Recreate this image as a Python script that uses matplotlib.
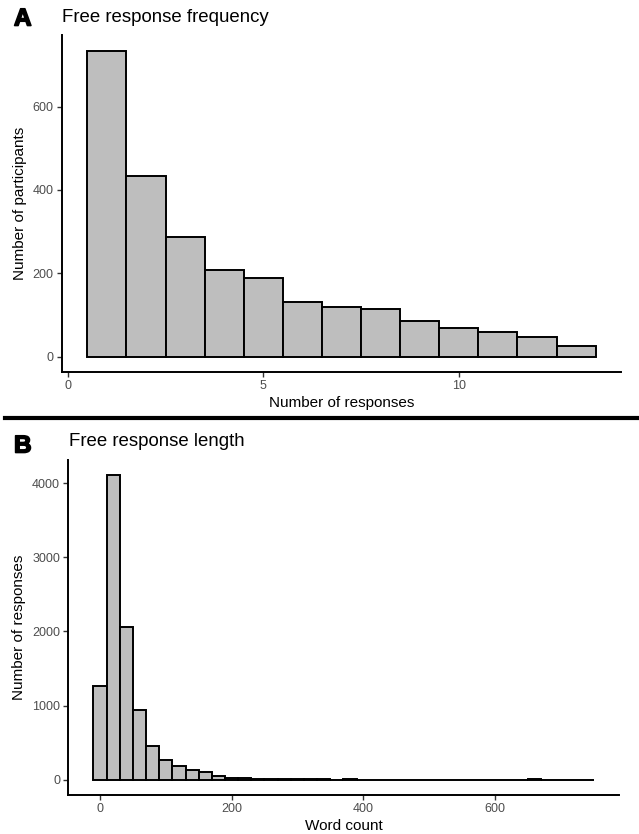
import matplotlib.pyplot as plt
import matplotlib.patheffects as pe
import numpy as np

plt.rcParams['font.family'] = ['Liberation Sans', 'DejaVu Sans']

# panel A: responses per participant
n_responses = [1, 2, 3, 4, 5, 6, 7, 8, 9, 10, 11, 12, 13]
n_participants = [734, 434, 286, 208, 188, 132, 120, 114, 86, 69, 60, 46, 26]

# panel B: word count histogram (binwidth 20, centred on multiples of 20)
word_bins = [0, 20, 40, 60, 80, 100, 120, 140, 160, 180, 200, 220, 240, 260,
             280, 300, 320, 340, 360, 380, 400, 420, 440, 460, 480, 500, 520,
             540, 560, 580, 600, 620, 640, 660, 680, 700, 720, 740]
word_counts = [1267, 4112, 2054, 944, 449, 270, 180, 135, 99, 54, 27, 18, 13, 7,
               8, 6, 4, 4, 3, 5, 3, 3, 2, 1, 2, 3, 2,
               2, 2, 1, 2, 2, 3, 4, 2, 1, 1, 1]

fig = plt.figure(figsize=(6.39, 8.34), dpi=100)

tick_col = '#4D4D4D'
lw = 1.4
heavy = [pe.Stroke(linewidth=1.2, foreground='black'), pe.Normal()]


def style(ax):
    for s in ['top', 'right']:
        ax.spines[s].set_visible(False)
    for s in ['left', 'bottom']:
        ax.spines[s].set_linewidth(lw)
        ax.spines[s].set_color('black')
    ax.tick_params(length=3.5, width=1.0, color='#333333', labelcolor=tick_col,
                   labelsize=9, pad=2.5)


axA = fig.add_axes([0.097, 0.554, 0.875, 0.404])
axA.bar(n_responses, n_participants, width=1, color='#BEBEBE', edgecolor='black', linewidth=lw)
axA.set_xlim(-0.15, 14.15)
axA.set_ylim(-36.75, 771.75)
axA.set_xticks([0, 5, 10])
axA.set_yticks([0, 200, 400, 600])
style(axA)
axA.set_xlabel('Number of responses', fontsize=11, labelpad=3)
axA.set_ylabel('Number of participants', fontsize=11, labelpad=4)
fig.text(62 / 639, 1 - 18 / 834, 'Free response frequency', fontsize=13.4, va='center', ha='left')
fig.text(14 / 639, 1 - 19 / 834, 'A', fontsize=17.5, weight='heavy', va='center', ha='left',
         path_effects=heavy)

# separator between the two panels
fig.add_artist(plt.Line2D([5 / 639, 1.0], [1 - 418 / 834, 1 - 418 / 834], color='black', linewidth=3))

axB = fig.add_axes([0.107, 0.0468, 0.861, 0.402])
axB.bar(word_bins, word_counts, width=20, color='#BEBEBE', edgecolor='black', linewidth=lw)
axB.set_xlim(-48, 788)
axB.set_ylim(-205.6, 4317.6)
axB.set_xticks([0, 200, 400, 600])
axB.set_yticks([0, 1000, 2000, 3000, 4000])
style(axB)
axB.set_xlabel('Word count', fontsize=11, labelpad=3)
axB.set_ylabel('Number of responses', fontsize=11, labelpad=4)
fig.text(69 / 639, 1 - 441 / 834, 'Free response length', fontsize=13.4, va='center', ha='left')
fig.text(14 / 639, 1 - 446 / 834, 'B', fontsize=17.5, weight='heavy', va='center', ha='left',
         path_effects=heavy)

plt.savefig('out.png', dpi=100)
